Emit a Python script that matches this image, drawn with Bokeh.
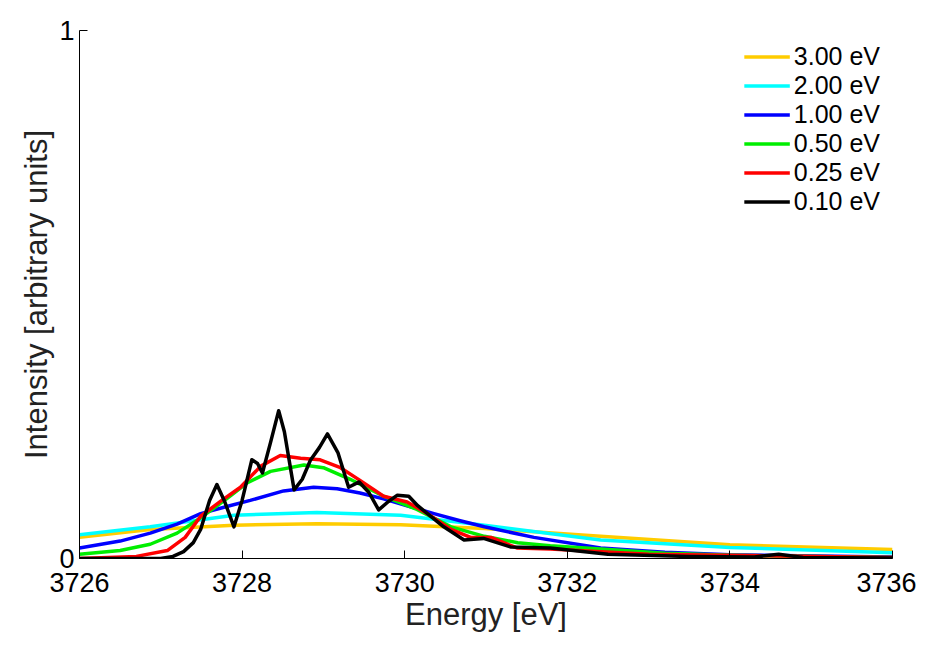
from bokeh.plotting import figure
from bokeh.models import FixedTicker, Legend, LegendItem
from bokeh.embed import file_html
from bokeh.resources import INLINE

x_300 = [3726, 3726.87, 3727.9, 3728.92, 3729.95, 3730.98, 3732.41, 3734, 3736]
y_300 = [0.040, 0.055, 0.063, 0.066, 0.064, 0.057, 0.042, 0.026, 0.017]

x_200 = [3726, 3726.87, 3727.9, 3728.92, 3729.95, 3730.98, 3732.41, 3734, 3736]
y_200 = [0.045, 0.060, 0.082, 0.087, 0.082, 0.063, 0.035, 0.021, 0.011]

x_100 = [3726, 3726.5, 3726.87, 3727.2, 3727.49, 3727.8, 3728.1, 3728.51, 3728.88, 3729.17,
         3729.45, 3729.74, 3730.05, 3730.36, 3730.67, 3730.98, 3731.59, 3732.41, 3733.2, 3734, 3736]
y_100 = [0.020, 0.033, 0.048, 0.065, 0.085, 0.098, 0.110, 0.128, 0.135, 0.132,
         0.124, 0.113, 0.099, 0.085, 0.072, 0.060, 0.040, 0.020, 0.012, 0.007, 0.003]

x_050 = [3726, 3726.5, 3726.87, 3727.2, 3727.49, 3727.8, 3728.06, 3728.35, 3728.76, 3729.0, 3729.33,
         3729.74, 3730.15, 3730.57, 3730.98, 3731.39, 3731.79, 3732.41, 3733.2, 3734, 3736]
y_050 = [0.008, 0.015, 0.027, 0.048, 0.077, 0.112, 0.143, 0.165, 0.177, 0.172, 0.150,
         0.118, 0.093, 0.060, 0.042, 0.030, 0.024, 0.018, 0.010, 0.006, 0.002]

x_025 = [3726, 3726.7, 3727.08, 3727.3, 3727.49, 3727.75, 3727.98, 3728.23, 3728.47, 3728.72, 3728.96,
         3729.21, 3729.46, 3729.74, 3730.03, 3730.28, 3730.57, 3730.81, 3731.06,
         3731.38, 3731.79, 3733, 3736]
y_025 = [0.0, 0.004, 0.015, 0.040, 0.080, 0.110, 0.135, 0.175, 0.195, 0.190, 0.187,
         0.172, 0.147, 0.118, 0.107, 0.085, 0.055, 0.040, 0.040,
         0.020, 0.018, 0.008, 0.002]

x_010 = [3726, 3727.0, 3727.15, 3727.28, 3727.40, 3727.49, 3727.60, 3727.69, 3727.78, 3727.90,
         3728.0, 3728.12, 3728.19, 3728.25, 3728.35, 3728.45, 3728.52, 3728.64, 3728.74, 3728.84,
         3728.95, 3729.05, 3729.18, 3729.31, 3729.44, 3729.56, 3729.68, 3729.80, 3729.91,
         3730.05, 3730.16, 3730.28, 3730.48, 3730.73, 3730.97, 3731.30, 3731.79, 3732.5,
         3733.5, 3734.3, 3734.6, 3734.9, 3736]
y_010 = [0.0, 0.0, 0.004, 0.013, 0.030, 0.055, 0.110, 0.140, 0.110, 0.060,
         0.110, 0.187, 0.180, 0.162, 0.220, 0.280, 0.240, 0.130, 0.150, 0.186,
         0.210, 0.236, 0.200, 0.135, 0.145, 0.125, 0.092, 0.108, 0.120,
         0.118, 0.100, 0.085, 0.060, 0.035, 0.038, 0.022, 0.020, 0.008,
         0.004, 0.003, 0.008, 0.002, 0.001]

series = [
    ("3.00 eV", x_300, y_300, "#ffcc00"),
    ("2.00 eV", x_200, y_200, "#00ffff"),
    ("1.00 eV", x_100, y_100, "#0000ff"),
    ("0.50 eV", x_050, y_050, "#00ee00"),
    ("0.25 eV", x_025, y_025, "#ff0000"),
    ("0.10 eV", x_010, y_010, "#000000"),
]

p = figure(width=916, height=634, x_range=(3726, 3736), y_range=(0, 1),
           output_backend="svg", toolbar_location=None,
           min_border_left=79, min_border_right=24, min_border_top=30,
           min_border_bottom=72)
p.outline_line_color = None
p.grid.visible = False

items = []
for label, xs, ys, col in series:
    r = p.line(xs, ys, line_color=col, line_width=3.5, line_join="round")
    items.append(LegendItem(label=label, renderers=[r]))

font = "Liberation Sans"
p.xaxis.ticker = FixedTicker(ticks=[3726, 3728, 3730, 3732, 3734, 3736])
p.yaxis.ticker = FixedTicker(ticks=[0, 1])
for ax in (p.xaxis[0], p.yaxis[0]):
    ax.major_tick_in = 8
    ax.major_tick_out = 0
    ax.minor_tick_line_color = None
    ax.major_label_text_font = font
    ax.major_label_text_font_size = "27px"
    ax.major_label_text_color = "black"
    ax.axis_label_text_font = font
    ax.axis_label_text_font_size = "31px"
    ax.axis_label_text_font_style = "normal"
    ax.axis_label_text_color = "#222222"
    ax.axis_line_color = "black"
    ax.major_tick_line_color = "black"
p.xaxis.axis_label = "Energy [eV]"
p.yaxis.axis_label = "Intensity [arbitrary units]"
p.xaxis.major_label_standoff = 14
p.xaxis.axis_label_standoff = 2
p.yaxis.axis_label_standoff = 2

legend = Legend(items=items, location="top_right")
legend.border_line_color = None
legend.background_fill_alpha = 0
legend.label_text_font = font
legend.label_text_font_size = "25px"
legend.label_text_color = "black"
legend.glyph_width = 46
legend.spacing = 0
legend.label_height = 27
legend.glyph_height = 27
legend.margin = 12
legend.label_standoff = 4
p.add_layout(legend)

open("out.html", "w").write(file_html(p, INLINE))
